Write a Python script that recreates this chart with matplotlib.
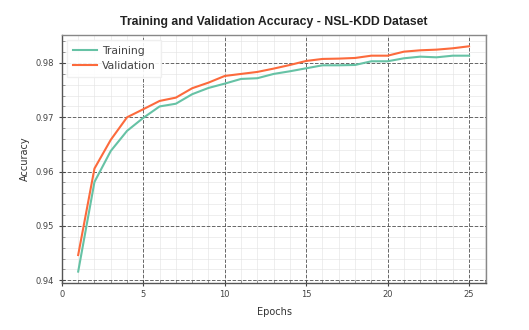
import matplotlib
matplotlib.use("Agg")
import matplotlib.pyplot as plt
from matplotlib.ticker import MultipleLocator

epochs = list(range(1, 26))
training = [0.9416, 0.9581, 0.9638, 0.9675, 0.9699, 0.9720, 0.9725, 0.97425, 0.9754, 0.9762,
            0.97706, 0.97719, 0.97798, 0.97847, 0.97902, 0.97957, 0.97957, 0.97963, 0.98031, 0.98031,
            0.98086, 0.98116, 0.98104, 0.98134, 0.98134]
validation = [0.94465, 0.96057, 0.96585, 0.9700, 0.97149, 0.97301, 0.97362, 0.97535, 0.97638, 0.97761,
              0.97798, 0.97835, 0.97896, 0.97963, 0.98037, 0.98074, 0.98080, 0.98092, 0.98134, 0.98134,
              0.98208, 0.98233, 0.98245, 0.9827, 0.98307]

fig = plt.figure(figsize=(5.29, 3.30), dpi=100)
ax = fig.add_axes([0.117, 0.1424, 0.802, 0.7516])

ax.plot(epochs, training, color="#66c2a5", lw=1.5, label="Training")
ax.plot(epochs, validation, color="#fc6a3c", lw=1.5, label="Validation")

ax.set_xlim(0, 26.05)
ax.set_ylim(0.9395, 0.98515)
ax.xaxis.set_major_locator(MultipleLocator(5))
ax.xaxis.set_minor_locator(MultipleLocator(1))
ax.yaxis.set_minor_locator(MultipleLocator(0.002))
ax.set_yticks([0.94, 0.95, 0.96, 0.97, 0.98])
ax.set_yticklabels(["0.94", "0.95", "0.96", "0.97", "0.98"])

ax.grid(which="major", linestyle="--", color="#555555", linewidth=0.7, alpha=0.9)
ax.grid(which="minor", linestyle="-", color="#e2e2e2", linewidth=0.5, alpha=0.8)
ax.set_axisbelow(True)

for s in ax.spines.values():
    s.set_color("#888888")
    s.set_linewidth(1.0)
ax.spines["left"].set_color("#555555")
ax.spines["bottom"].set_color("#555555")

ax.tick_params(which="major", direction="inout", length=5, labelsize=6, colors="#444444")
ax.tick_params(which="minor", direction="in", length=2, colors="#888888")
ax.tick_params(axis="x", pad=2.5)

ax.set_xlabel("Epochs", fontsize=7, color="#333333", labelpad=6)
ax.set_ylabel("Accuracy", fontsize=7, color="#333333", labelpad=4)
ax.set_title("Training and Validation Accuracy - NSL-KDD Dataset", fontsize=8.8,
             fontweight="bold", color="#222222", pad=7.5, family="Liberation Sans")

leg = ax.legend(loc="upper left", fontsize=7.8, frameon=True, fancybox=False,
                framealpha=0.9, edgecolor="#eeeeee", handlelength=2.2,
                handletextpad=0.5, borderpad=0.5, labelcolor="#444444")

fig.savefig("out.png", dpi=100)
